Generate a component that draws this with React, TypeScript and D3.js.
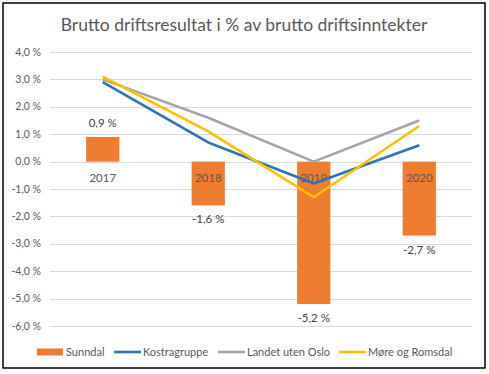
import React, { useRef, useEffect } from "react";
import * as d3 from "d3";

// data
const years = ["2017", "2018", "2019", "2020"];
const sunndal = [0.9, -1.6, -5.2, -2.7];
const kostragruppe = [2.9, 0.7, -0.8, 0.6];
const landetUtenOslo = [3.0, 1.6, 0.0, 1.5];
const moreOgRomsdal = [3.1, 1.1, -1.3, 1.3];
const yTicks = [4, 3, 2, 1, 0, -1, -2, -3, -4, -5, -6];

const lineSeries = [
  { name: "Kostragruppe", values: kostragruppe, color: "#2E75B6" },
  { name: "Landet uten Oslo", values: landetUtenOslo, color: "#A5A5A5" },
  { name: "Møre og Romsdal", values: moreOgRomsdal, color: "#FFC000" },
];

const fmt = (v: number) => v.toFixed(1).replace(".", ",") + " %";

const App = () => {
  const ref = useRef<SVGSVGElement | null>(null);

  useEffect(() => {
    const width = 489;
    const height = 374;
    const margin = { top: 52, right: 17, bottom: 48, left: 50 };
    const font = "Lato, 'Open Sans', sans-serif";

    const svg = d3.select(ref.current);
    svg.selectAll("*").remove();

    svg.append("rect").attr("width", width).attr("height", height).attr("fill", "#fff");
    // ramme
    svg
      .append("rect")
      .attr("x", 3)
      .attr("y", 3)
      .attr("width", 482)
      .attr("height", 365)
      .attr("fill", "none")
      .attr("stroke", "#000")
      .attr("stroke-width", 1.5);

    const x = d3
      .scaleBand()
      .domain(years)
      .range([margin.left, width - margin.right]);

    const y = d3
      .scaleLinear()
      .domain([-6, 4])
      .range([height - margin.bottom, margin.top]);

    const barW = x.bandwidth() * 0.315;
    const cx = (d: string) => (x(d) as number) + x.bandwidth() / 2;

    // rutenett og akse
    svg
      .append("g")
      .selectAll("line")
      .data(yTicks)
      .join("line")
      .attr("x1", margin.left)
      .attr("x2", width - margin.right)
      .attr("y1", (d) => Math.round(y(d)) + 0.5)
      .attr("y2", (d) => Math.round(y(d)) + 0.5)
      .attr("stroke", "#d9d9d9")
      .attr("stroke-width", 1);

    svg
      .append("g")
      .selectAll("text")
      .data(yTicks)
      .join("text")
      .attr("x", 41)
      .attr("y", (d) => y(d))
      .attr("dy", "0.35em")
      .attr("text-anchor", "end")
      .attr("font-family", font)
      .attr("font-size", 10.5)
      .attr("fill", "#595959")
      .text(fmt);

    // søyler
    svg
      .append("g")
      .attr("fill", "#ED7D31")
      .selectAll("rect")
      .data(sunndal)
      .join("rect")
      .attr("x", (d, i) => cx(years[i]) - barW / 2)
      .attr("y", (d) => y(Math.max(0, d)))
      .attr("width", barW)
      .attr("height", (d) => Math.abs(y(d) - y(0)));

    // kategorietiketter
    svg
      .append("g")
      .selectAll("text")
      .data(years)
      .join("text")
      .attr("x", cx)
      .attr("y", y(0) + 16)
      .attr("dy", "0.35em")
      .attr("text-anchor", "middle")
      .attr("font-family", font)
      .attr("font-size", 11.5)
      .attr("fill", "#595959")
      .text((d) => d);

    // linjer
    const line = d3
      .line<number>()
      .x((d, i) => cx(years[i]))
      .y((d) => y(d));

    lineSeries.forEach((s) => {
      svg
        .append("path")
        .attr("d", line(s.values))
        .attr("fill", "none")
        .attr("stroke", s.color)
        .attr("stroke-width", 2.6)
        .attr("stroke-linejoin", "round");
    });

    // dataetiketter
    svg
      .append("g")
      .selectAll("text")
      .data(sunndal)
      .join("text")
      .attr("x", (d, i) => cx(years[i]))
      .attr("y", (d) => y(d) + (d >= 0 ? -14 : 14))
      .attr("dy", "0.35em")
      .attr("text-anchor", "middle")
      .attr("font-family", font)
      .attr("font-size", 11.5)
      .attr("fill", "#404040")
      .text(fmt);

    // tittel
    svg
      .append("text")
      .attr("x", 244)
      .attr("y", 25)
      .attr("dy", "0.35em")
      .attr("text-anchor", "middle")
      .attr("font-family", font)
      .attr("font-size", 17.5)
      .attr("fill", "#595959")
      .text("Brutto driftsresultat i % av brutto driftsinntekter");

    // forklaring
    const legend = [
      { name: "Sunndal", color: "#ED7D31", bar: true, x: 37 },
      { name: "Kostragruppe", color: "#2E75B6", bar: false, x: 114 },
      { name: "Landet uten Oslo", color: "#A5A5A5", bar: false, x: 218 },
      { name: "Møre og Romsdal", color: "#FFC000", bar: false, x: 339 },
    ];
    const ly = 352;
    const lg = svg.append("g");
    legend.forEach((l) => {
      if (l.bar) {
        lg.append("rect")
          .attr("x", l.x)
          .attr("y", ly - 3.5)
          .attr("width", 26)
          .attr("height", 7)
          .attr("fill", l.color);
      } else {
        lg.append("line")
          .attr("x1", l.x)
          .attr("x2", l.x + 27)
          .attr("y1", ly)
          .attr("y2", ly)
          .attr("stroke", l.color)
          .attr("stroke-width", 2.6);
      }
      lg.append("text")
        .attr("x", l.x + 29)
        .attr("y", ly)
        .attr("dy", "0.35em")
        .attr("font-family", font)
        .attr("font-size", 11)
        .attr("fill", "#595959")
        .text(l.name);
    });
  }, []);

  return (
    <svg
      ref={ref}
      width={489}
      height={374}
      style={{ position: "absolute", left: 0, top: 0, display: "block" }}
    />
  );
};

export default App;
